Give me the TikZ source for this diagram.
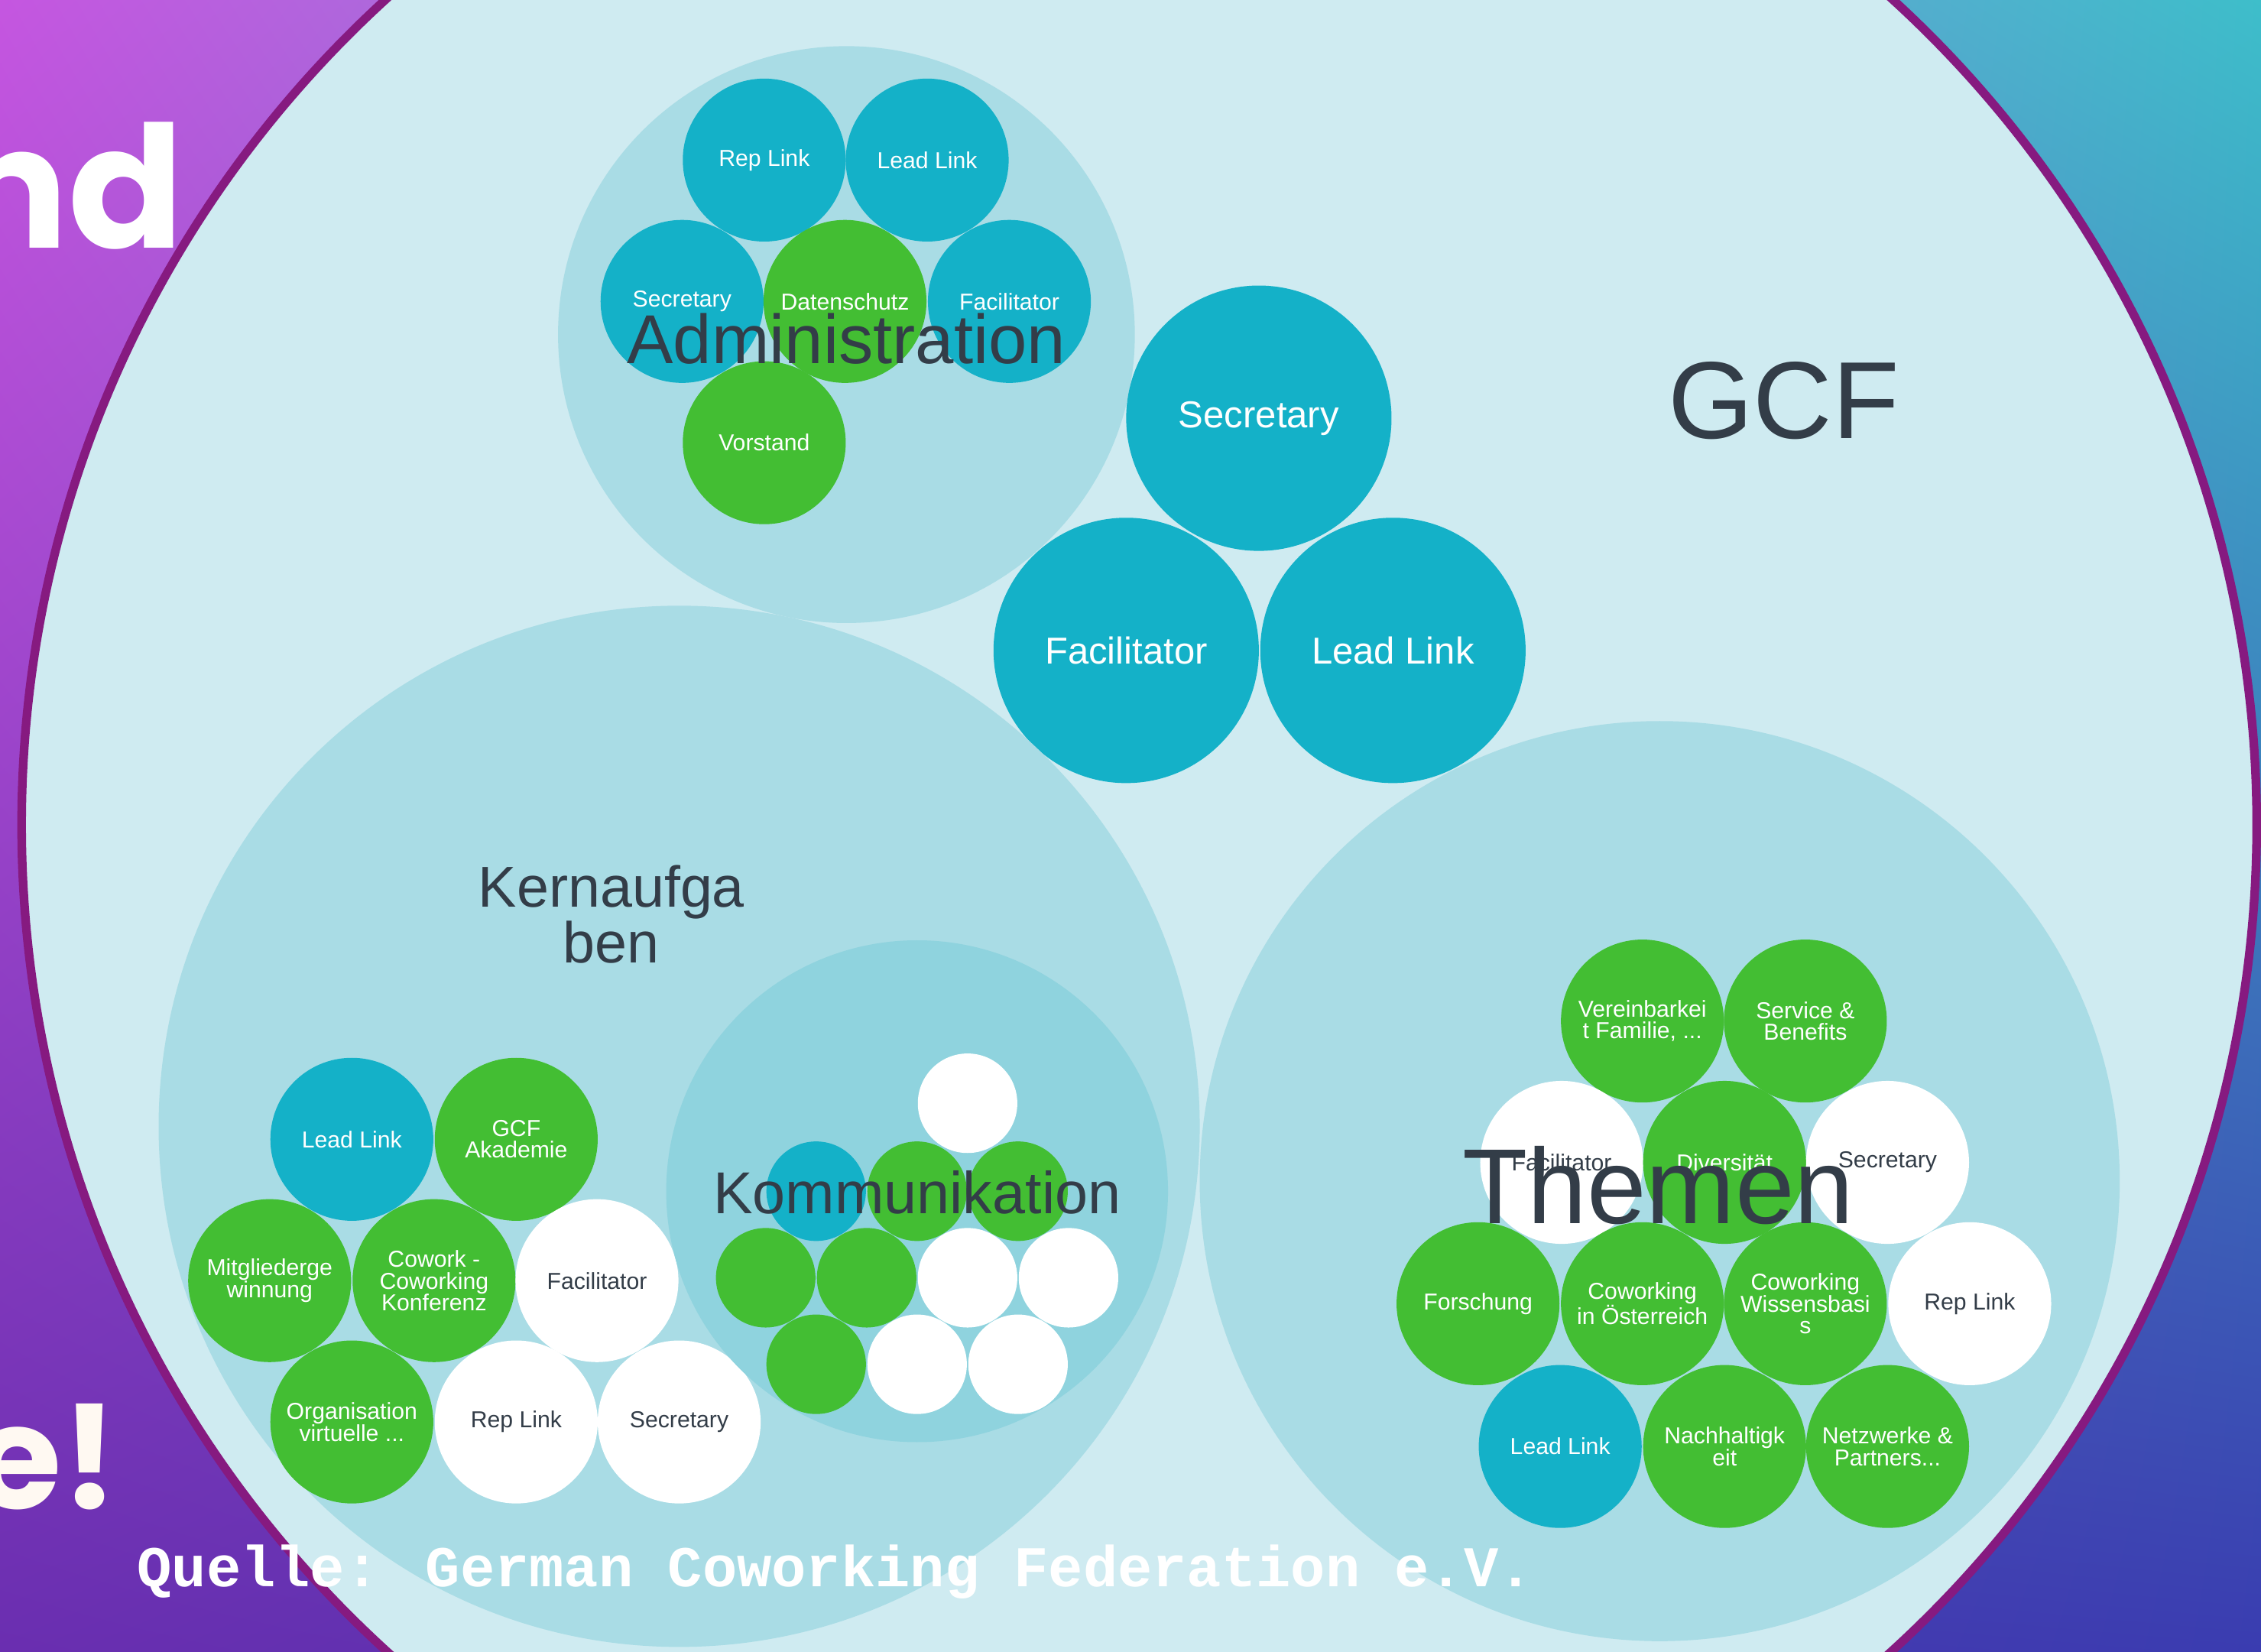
\documentclass[tikz,border=0pt]{standalone}
\usepackage{fontspec}
\usetikzlibrary{shadings}
\setmainfont{Liberation Sans}
\newfontfamily\quellefont{Liberation Mono}
\newfontfamily\handfont{Poppins}
\definecolor{bgUL}{HTML}{C556E0}
\definecolor{bgLL}{HTML}{6A2EB0}
\definecolor{bgUR}{HTML}{3EBECA}
\definecolor{bgLR}{HTML}{3A3CB0}
\definecolor{outerc}{HTML}{CFEBF1}
\definecolor{rimc}{HTML}{861A80}
\definecolor{grpc}{HTML}{A9DCE5}
\definecolor{kommc}{HTML}{8FD3DE}
\definecolor{tealc}{HTML}{14B1C8}
\definecolor{greenc}{HTML}{43BE33}
\definecolor{txtc}{HTML}{333D48}
\tikzset{
  grp/.style={circle, fill=grpc, inner sep=0pt, minimum size=#1},
  rolebase/.style={circle, inner sep=0pt, minimum size=113pt, align=center, font=\fontsize{16}{15}\selectfont},
  tealrole/.style={rolebase, fill=tealc, text=white},
  greenrole/.style={rolebase, fill=greenc, text=white},
  whiterole/.style={rolebase, fill=white, text=txtc},
  bigrole/.style={circle, inner sep=0pt, minimum size=184pt, fill=tealc, text=white, font=\fontsize{26}{28}\selectfont},
  kdisc/.style={circle, inner sep=0pt, minimum size=69pt},
  lbl/.style={text=txtc, inner sep=0pt, align=center},
}
\begin{document}
\begin{tikzpicture}[x=1pt,y=-1pt]
\useasboundingbox (0,0) rectangle (1568,1145);
% background
\shade[upper left=bgUL, lower left=bgLL, upper right=bgUR, lower right=bgLR] (0,0) rectangle (1568,1145);
% decorative words at the left
\node[anchor=base east, text=white, inner sep=0pt, font=\handfont\bfseries\fontsize{118}{120}\selectfont] (wnd) at (128,172) {nd};
\node[anchor=base east, text=white!95!orange, inner sep=0pt, font=\handfont\bfseries\fontsize{100}{100}\selectfont] (wex) at (82,1046) {e!};
% outer GCF circle
\node[circle, fill=outerc, draw=rimc, line width=6pt, minimum size=1550pt, inner sep=0pt] (gcf) at (790,572) {};
\node[lbl, font=\fontsize{76}{80}\selectfont] (gcflabel) at (1237,278) {GCF};
% Administration
\node[grp=400pt] (adm) at (587,232) {};
\node[tealrole] (admrep) at (530,111) {Rep Link};
\node[tealrole] (admlead) at (643,111) {Lead Link};
\node[tealrole] (admsec) at (473,209) {Secretary};
\node[greenrole] (admdat) at (586,209) {Datenschutz};
\node[tealrole] (admfac) at (700,209) {Facilitator};
\node[greenrole] (admvor) at (530,307) {Vorstand};
\node[lbl, font=\fontsize{48}{50}\selectfont] (admlabel) at (587,235) {Administration};
% GCF roles
\node[bigrole] (gsec) at (873,290) {Secretary};
\node[bigrole] (gfac) at (781,451) {Facilitator};
\node[bigrole] (glead) at (966,451) {Lead Link};
% Kernaufgaben
\node[grp=722pt] (kern) at (471,781) {};
\node[lbl, font=\fontsize{40}{37}\selectfont] (kernlabel) at (424,634) {Kernaufga\\ben};
\node[tealrole] (klead) at (244,790) {Lead Link};
\node[greenrole] (kakad) at (358,790) {GCF\\Akademie};
\node[greenrole] (kmit) at (187,888) {Mitgliederge\\winnung};
\node[greenrole] (kkonf) at (301,888) {Cowork -\\Coworking\\Konferenz};
\node[whiterole] (kfac) at (414,888) {Facilitator};
\node[greenrole] (korg) at (244,986) {Organisation\\virtuelle ...};
\node[whiterole] (krep) at (358,986) {Rep Link};
\node[whiterole] (ksec) at (471,986) {Secretary};
% Kommunikation
\node[circle, fill=kommc, inner sep=0pt, minimum size=348pt] (komm) at (636,826) {};
\node[kdisc, fill=white] (k1) at (671,765) {};
\node[kdisc, fill=tealc] (k2) at (566,826) {};
\node[kdisc, fill=greenc] (k3) at (636,826) {};
\node[kdisc, fill=greenc] (k4) at (706,826) {};
\node[kdisc, fill=greenc] (k5) at (531,886) {};
\node[kdisc, fill=greenc] (k6) at (601,886) {};
\node[kdisc, fill=white] (k7) at (671,886) {};
\node[kdisc, fill=white] (k8) at (741,886) {};
\node[kdisc, fill=greenc] (k9) at (566,946) {};
\node[kdisc, fill=white] (k10) at (636,946) {};
\node[kdisc, fill=white] (k11) at (706,946) {};
\node[lbl, font=\fontsize{41}{44}\selectfont] (kommlabel) at (636,827) {Kommunikation};
% Themen
\node[grp=638pt] (them) at (1151,819) {};
\node[greenrole] (tver) at (1139,708) {Vereinbarkei\\t Familie, ...};
\node[greenrole] (tser) at (1252,708) {Service \&\\Benefits};
\node[whiterole] (tfac) at (1083,806) {Facilitator};
\node[greenrole] (tdiv) at (1196,806) {Diversität};
\node[whiterole] (tsec) at (1309,806) {Secretary};
\node[greenrole] (tfor) at (1025,904) {Forschung};
\node[greenrole] (tcoa) at (1139,904) {Coworking\\in Österreich};
\node[greenrole] (tcow) at (1252,904) {Coworking\\Wissensbasi\\s};
\node[whiterole] (trep) at (1366,904) {Rep Link};
\node[tealrole] (tlead) at (1082,1003) {Lead Link};
\node[greenrole] (tnach) at (1196,1003) {Nachhaltigk\\eit};
\node[greenrole] (tnet) at (1309,1003) {Netzwerke \&\\Partners...};
\node[lbl, font=\fontsize{74}{76}\selectfont] (themlabel) at (1150,822) {Themen};
% source line
\node[anchor=west, text=white, inner sep=0pt, font=\quellefont\bfseries\fontsize{40}{42}\selectfont] (quelle) at (95,1090) {Quelle: German Coworking Federation e.V.};
\end{tikzpicture}
\end{document}
